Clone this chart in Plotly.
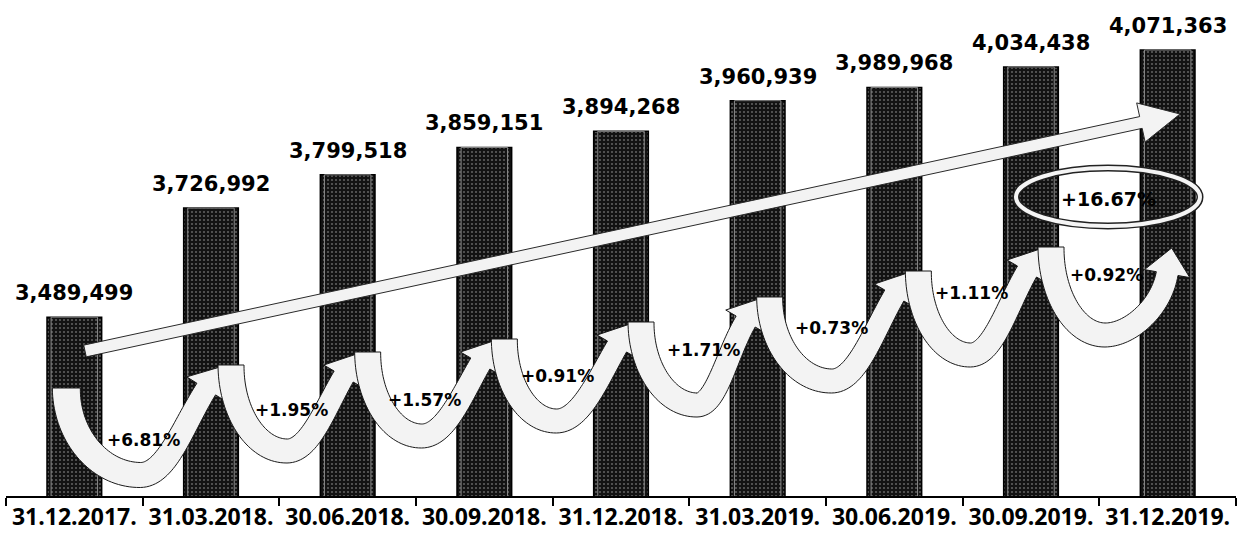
import numpy as np
import plotly.graph_objects as go

# ---------------- data ----------------
dates = ["31.12.2017.", "31.03.2018.", "30.06.2018.", "30.09.2018.", "31.12.2018.",
         "31.03.2019.", "30.06.2019.", "30.09.2019.", "31.12.2019."]
values = [3489499, 3726992, 3799518, 3859151, 3894268, 3960939, 3989968, 4034438, 4071363]

# ---------------- layout constants ----------------
W, H = 1237, 535
ML, MR, MT, MB = 6, 1, 10, 39
X_RANGE = [-0.5, len(dates) - 0.5]
Y_RANGE = [3_100_000, 4_158_500]
PW = W - ML - MR
PH = H - MT - MB


def to_data(px, py):
    xd = X_RANGE[0] + (px - ML) / PW * (X_RANGE[1] - X_RANGE[0])
    yd = Y_RANGE[0] + (H - MB - py) / PH * (Y_RANGE[1] - Y_RANGE[0])
    return xd, yd


def cx_px(i):
    return ML + (i - X_RANGE[0]) / (X_RANGE[1] - X_RANGE[0]) * PW


def path_str(pts):
    out = []
    for k, (px, py) in enumerate(pts):
        xd, yd = to_data(px, py)
        out.append(("M " if k == 0 else "L ") + f"{xd:.5f},{yd:.1f}")
    return " ".join(out) + " Z"


def cubic(p0, c1, c2, p1, n=40):
    t = np.linspace(0, 1, n)[:, None]
    pts = (1 - t) ** 3 * p0 + 3 * (1 - t) ** 2 * t * c1 + 3 * (1 - t) * t ** 2 * c2 + t ** 3 * p1
    der = 3 * (1 - t) ** 2 * (c1 - p0) + 6 * (1 - t) * t * (c2 - c1) + 3 * t ** 2 * (p1 - c2)
    return pts, der


def u_arrow(tx, ty, bx, by, tip, ang_deg, w0=26, w1=22, hl=26, hw=46):
    a = np.radians(ang_deg)
    d = np.array([np.cos(a), -np.sin(a)])
    tip = np.array(tip, dtype=float)
    base = tip - d * hl
    P0 = np.array([tx, ty], float)
    B = np.array([bx, by], float)
    p1, d1 = cubic(P0, P0 + np.array([0, 0.55 * (by - ty)]), B - np.array([0.55 * (bx - tx), 0]), B)
    L = np.linalg.norm(base - B)
    p2, d2 = cubic(B, B + np.array([0.4 * (base[0] - bx), 0]), base - d * 0.4 * L, base)
    pts = np.vstack([p1, p2[1:]])
    der = np.vstack([d1, d2[1:]])
    der = der / np.linalg.norm(der, axis=1, keepdims=True)
    nrm = np.stack([-der[:, 1], der[:, 0]], axis=1)
    t = np.linspace(0, 1, len(pts))[:, None]
    hwid = (w0 + (w1 - w0) * t) / 2
    left = pts + nrm * hwid
    right = pts - nrm * hwid
    n_end = nrm[-1]
    head = [tuple(base + n_end * hw / 2), tuple(tip), tuple(base - n_end * hw / 2)]
    return [tuple(p) for p in left] + head + [tuple(p) for p in right[::-1]]


def straight_arrow(p0, tip, th=12, hl=40, hw=40):
    p0 = np.array(p0, float)
    tip = np.array(tip, float)
    d = (tip - p0) / np.linalg.norm(tip - p0)
    n = np.array([-d[1], d[0]])
    base = tip - d * hl
    return [tuple(p0 + n * th / 2), tuple(base + n * th / 2), tuple(base + n * hw / 2), tuple(tip),
            tuple(base - n * hw / 2), tuple(base - n * th / 2), tuple(p0 - n * th / 2)]


# decoration geometry (pixels)
tail_dx = [-8, 20, 20, 20, 20, 12, 24, 20]
tail_top = [388, 365, 352, 339, 322, 297, 271, 247]
u_bottom_dx = [66, 76, 74, 72, 76, 74, 76, 74]
u_bottom = [475, 451, 436, 421, 405, 381, 355, 335]
head_ang = [58, 60, 60, 60, 60, 60, 60, 80]
label_dx = [69, 80, 77, 73, 82, 74, 77, 75]
label_y = [440, 410, 400, 376, 350, 328, 293, 275]

fig = go.Figure()
fig.add_trace(go.Bar(
    x=list(range(len(values))), y=values, width=0.4,
    marker=dict(color="#121212", line=dict(color="black", width=1.5),
                pattern=dict(shape=".", fgcolor="#5e5e5e", bgcolor="#121212", size=4,
                             solidity=0.22, fillmode="replace")),
    hoverinfo="skip", showlegend=False,
))
fig.add_trace(go.Bar(
    x=list(range(len(values))), y=values, width=0.34,
    marker=dict(color="rgba(0,0,0,0)", line=dict(color="#8a8a8a", width=1)),
    hoverinfo="skip", showlegend=False,
))

shapes = []
big = straight_arrow((85, 351), (1180, 114))
shapes.append(dict(type="path", xref="x", yref="y", path=path_str(big), layer="above",
                   fillcolor="#f3f3f3", line=dict(color="#2a2a2a", width=1)))

annotations = []
n = len(values)
for i in range(n - 1):
    cx = cx_px(i)
    cxn = cx_px(i + 1)
    tx = cx + tail_dx[i]
    if i < n - 2:
        tip = (cxn + tail_dx[i + 1] - 11, tail_top[i + 1] + 2)
    else:
        tip = (cxn + 4, 248)
    poly = u_arrow(tx, tail_top[i], cx + u_bottom_dx[i], u_bottom[i], tip, head_ang[i],
                   w0=28 if i == 0 else 26)
    shapes.append(dict(type="path", xref="x", yref="y", path=path_str(poly), layer="above",
                       fillcolor="#f3f3f3", line=dict(color="#1a1a1a", width=1)))
    pct = (values[i + 1] / values[i] - 1) * 100
    lx, ly = to_data(cx + label_dx[i], label_y[i])
    annotations.append(dict(x=lx, y=ly, xref="x", yref="y", text=f"+{pct:.2f}%", showarrow=False,
                            font=dict(family="DejaVu Sans", size=17, color="black", weight="bold")))

# total growth ellipse
ex0, ey0 = to_data(1108 - 92, 197 - 29)
ex1, ey1 = to_data(1108 + 92, 197 + 29)
shapes.append(dict(type="circle", xref="x", yref="y", x0=ex0, x1=ex1, y0=ey1, y1=ey0, layer="above",
                   line=dict(color="#222", width=7)))
shapes.append(dict(type="circle", xref="x", yref="y", x0=ex0, x1=ex1, y0=ey1, y1=ey0, layer="above",
                   line=dict(color="#f5f5f5", width=4)))
total = (values[-1] / values[0] - 1) * 100
tx_, ty_ = to_data(1108, 199)
annotations.append(dict(x=tx_, y=ty_, xref="x", yref="y", text=f"+{total:.2f}%", showarrow=False,
                        font=dict(family="DejaVu Sans", size=19, color="black", weight="bold")))

# value labels
for i, v in enumerate(values):
    annotations.append(dict(x=i, y=v, xref="x", yref="y", text=f"{v:,}", showarrow=False,
                            yanchor="bottom", yshift=10,
                            font=dict(family="DejaVu Sans", size=21, color="black", weight="bold")))

fig.update_layout(
    width=W, height=H,
    margin=dict(l=ML, r=MR, t=MT, b=MB),
    paper_bgcolor="white", plot_bgcolor="white",
    barmode="overlay",
    shapes=shapes, annotations=annotations,
    xaxis=dict(range=X_RANGE, tickvals=list(range(n)), ticktext=dates, ticks="",
               showline=True, linecolor="black", linewidth=1.5, showgrid=False, zeroline=False,
               tickfont=dict(family="Open Sans", size=23, color="black", weight="bold"),
               minor=dict(tickvals=[i - 0.5 for i in range(n + 1)], ticks="outside", ticklen=8,
                          tickcolor="black", tickwidth=1.5, showgrid=False)),
    yaxis=dict(range=Y_RANGE, visible=False),
)

fig.write_html("out.html", config={"displayModeBar": False},
               post_script="document.body.style.margin='0';document.body.style.padding='0';")
